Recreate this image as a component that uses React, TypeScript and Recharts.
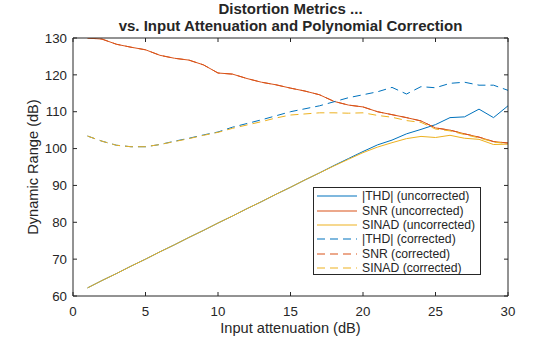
import React from 'react';
import { LineChart, Line, XAxis, YAxis, Legend } from 'recharts';

const attenuation = [1, 2, 3, 4, 5, 6, 7, 8, 9, 10, 11, 12, 13, 14, 15, 16, 17, 18, 19, 20, 21, 22, 23, 24, 25, 26, 27, 28, 29, 30];
const thdUncorrected = [62.2, 64.2, 66.1, 68.1, 70.0, 72.0, 73.9, 75.9, 77.8, 79.8, 81.7, 83.7, 85.6, 87.6, 89.5, 91.5, 93.4, 95.4, 97.3, 99.2, 101.0, 102.3, 104.0, 105.2, 106.5, 108.4, 108.6, 110.7, 108.4, 111.6];
const snrUncorrected = [130.0, 129.7, 128.3, 127.5, 126.8, 125.3, 124.5, 124.0, 122.7, 120.5, 120.2, 119.0, 118.0, 117.3, 116.4, 115.6, 114.6, 112.8, 111.8, 111.3, 110.0, 109.2, 108.4, 107.5, 105.6, 105.0, 104.0, 103.1, 101.9, 101.5];
const sinadUncorrected = [62.2, 64.2, 66.1, 68.1, 70.0, 72.0, 73.9, 75.9, 77.8, 79.8, 81.7, 83.7, 85.6, 87.6, 89.5, 91.5, 93.4, 95.3, 97.1, 98.9, 100.4, 101.6, 102.7, 103.3, 103.0, 103.6, 102.8, 102.5, 101.1, 101.2];
const thdCorrected = [103.4, 102.0, 100.9, 100.5, 100.5, 101.1, 102.0, 102.8, 103.7, 104.5, 105.8, 106.8, 107.8, 108.9, 110.0, 110.8, 111.6, 112.7, 113.8, 114.6, 115.4, 116.6, 114.8, 116.8, 116.5, 117.7, 118.0, 117.2, 117.2, 115.8];
const snrCorrected = [130.0, 129.7, 128.3, 127.5, 126.8, 125.3, 124.5, 124.0, 122.7, 120.5, 120.2, 119.0, 118.0, 117.3, 116.4, 115.6, 114.6, 112.8, 111.8, 111.3, 110.0, 109.2, 108.4, 107.5, 105.6, 105.0, 104.0, 103.1, 101.9, 101.5];
const sinadCorrected = [103.4, 102.0, 100.9, 100.5, 100.5, 101.1, 101.9, 102.7, 103.6, 104.4, 105.5, 106.4, 107.3, 108.3, 109.1, 109.4, 109.7, 109.7, 109.6, 109.7, 109.0, 108.5, 107.6, 107.1, 105.3, 104.8, 103.8, 102.9, 101.8, 101.3];

const xTicks = [0, 5, 10, 15, 20, 25, 30];
const yTicks = [60, 70, 80, 90, 100, 110, 120, 130];

const titleLines = ['Distortion Metrics ...', 'vs. Input Attenuation and Polynomial Correction'];
const xLabel = 'Input attenuation (dB)';
const yLabel = 'Dynamic Range (dB)';

const BLUE = '#0072BD';
const ORANGE = '#D95319';
const YELLOW = '#EDB120';
const TEXT = '#262626';
const FONT = '"Liberation Sans", Arial, Helvetica, sans-serif';
const DASH = '8 5';

const series = [
  { key: 'thdU', name: '|THD| (uncorrected)', color: BLUE, dash: undefined as string | undefined },
  { key: 'snrU', name: 'SNR (uncorrected)', color: ORANGE, dash: undefined as string | undefined },
  { key: 'sinadU', name: 'SINAD (uncorrected)', color: YELLOW, dash: undefined as string | undefined },
  { key: 'thdC', name: '|THD| (corrected)', color: BLUE, dash: DASH },
  { key: 'snrC', name: 'SNR (corrected)', color: ORANGE, dash: DASH },
  { key: 'sinadC', name: 'SINAD (corrected)', color: YELLOW, dash: DASH },
];

const data = attenuation.map((x, i) => ({
  x,
  thdU: thdUncorrected[i],
  snrU: snrUncorrected[i],
  sinadU: sinadUncorrected[i],
  thdC: thdCorrected[i],
  snrC: snrCorrected[i],
  sinadC: sinadCorrected[i],
}));

const BottomTick = (props: any) => {
  const { x, y, payload } = props;
  return (
    <g>
      <line x1={x} y1={y} x2={x} y2={y - 4} stroke={TEXT} strokeWidth={1} />
      <text x={x} y={y + 20} textAnchor="middle" fill={TEXT} fontSize={13.3} fontFamily={FONT}>
        {payload.value}
      </text>
    </g>
  );
};

const TopTick = (props: any) => {
  const { x, y } = props;
  return <line x1={x} y1={y} x2={x} y2={y + 4} stroke={TEXT} strokeWidth={1} />;
};

const LeftTick = (props: any) => {
  const { x, y, payload } = props;
  return (
    <g>
      <line x1={x} y1={y} x2={x + 4} y2={y} stroke={TEXT} strokeWidth={1} />
      <text x={x - 6} y={y + 4.7} textAnchor="end" fill={TEXT} fontSize={13.3} fontFamily={FONT}>
        {payload.value}
      </text>
    </g>
  );
};

const RightTick = (props: any) => {
  const { x, y } = props;
  return <line x1={x} y1={y} x2={x - 4} y2={y} stroke={TEXT} strokeWidth={1} />;
};

const LegendBox = () => (
  <div
    style={{
      width: 168,
      height: 88,
      border: `1px solid ${TEXT}`,
      background: '#fff',
      boxSizing: 'border-box',
      paddingTop: 1,
      fontFamily: FONT,
      fontSize: 12.2,
      color: TEXT,
    }}
  >
    {series.map((s) => (
      <div key={s.key} style={{ height: 14.4, display: 'flex', alignItems: 'center', whiteSpace: 'nowrap' }}>
        <svg width={48} height={10} style={{ flex: 'none' }}>
          <line x1={3} y1={5} x2={43} y2={5} stroke={s.color} strokeWidth={1.2} strokeDasharray={s.dash ? '8 5' : undefined} />
        </svg>
        <span>{s.name}</span>
      </div>
    ))}
  </div>
);

export default function App() {
  return (
    <div style={{ position: 'absolute', left: 0, top: 0, width: 560, height: 337, background: '#fff' }}>
      <LineChart
        width={560}
        height={337}
        data={data}
        margin={{ top: 37, right: 51, left: 0, bottom: 0 }}
      >
        <XAxis
          xAxisId="bottom"
          dataKey="x"
          type="number"
          domain={[0, 30]}
          ticks={xTicks}
          height={41}
          tickSize={0}
          tickMargin={0}
          axisLine={{ stroke: TEXT }}
          tickLine={false}
          tick={<BottomTick />}
          interval={0}
        />
        <XAxis
          xAxisId="top"
          orientation="top"
          dataKey="x"
          type="number"
          domain={[0, 30]}
          ticks={xTicks}
          height={1}
          tickSize={0}
          tickMargin={0}
          axisLine={{ stroke: TEXT }}
          tickLine={false}
          tick={<TopTick />}
          interval={0}
        />
        <YAxis
          yAxisId="left"
          type="number"
          domain={[60, 130]}
          ticks={yTicks}
          width={73}
          tickSize={0}
          tickMargin={0}
          axisLine={{ stroke: TEXT }}
          tickLine={false}
          tick={<LeftTick />}
          interval={0}
          allowDataOverflow
        />
        <YAxis
          yAxisId="right"
          orientation="right"
          type="number"
          domain={[60, 130]}
          ticks={yTicks}
          width={1}
          tickSize={0}
          tickMargin={0}
          axisLine={{ stroke: TEXT }}
          tickLine={false}
          tick={<RightTick />}
          interval={0}
          allowDataOverflow
        />
        {series.map((s) => (
          <Line
            key={s.key}
            xAxisId="bottom"
            yAxisId="left"
            type="linear"
            dataKey={s.key}
            name={s.name}
            stroke={s.color}
            strokeWidth={1}
            strokeDasharray={s.dash}
            dot={false}
            activeDot={false}
            isAnimationActive={false}
          />
        ))}
        <Legend
          layout="vertical"
          align="center"
          verticalAlign="middle"
          content={<LegendBox />}
          wrapperStyle={{ position: 'absolute', left: 313, top: 187, width: 168, height: 88 }}
        />
      </LineChart>
      <div
        style={{
          position: 'absolute',
          left: 73,
          width: 435,
          top: 1,
          textAlign: 'center',
          fontFamily: FONT,
          fontWeight: 'bold',
          fontSize: 15,
          lineHeight: '16.5px',
          color: TEXT,
          whiteSpace: 'nowrap',
        }}
      >
        {titleLines.map((t) => (
          <div key={t}>{t}</div>
        ))}
      </div>
      <div
        style={{
          position: 'absolute',
          left: 73,
          width: 435,
          top: 320,
          textAlign: 'center',
          fontFamily: FONT,
          fontSize: 14.6,
          lineHeight: '17px',
          color: TEXT,
          whiteSpace: 'nowrap',
        }}
      >
        {xLabel}
      </div>
      <div
        style={{
          position: 'absolute',
          left: 33,
          top: 167,
          width: 0,
          height: 0,
        }}
      >
        <div
          style={{
            position: 'absolute',
            left: -100,
            top: -9,
            width: 200,
            textAlign: 'center',
            transform: 'rotate(-90deg)',
            fontFamily: FONT,
            fontSize: 14.6,
            lineHeight: '18px',
            color: TEXT,
            whiteSpace: 'nowrap',
          }}
        >
          {yLabel}
        </div>
      </div>
    </div>
  );
}
